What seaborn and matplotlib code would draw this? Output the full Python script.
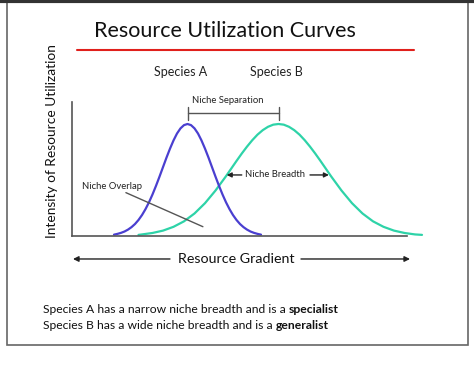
import pandas as pd
import seaborn as sns
import matplotlib.pyplot as plt
from matplotlib.patches import Rectangle
from matplotlib.lines import Line2D

# resource gradient positions / utilization
species_a_x = list(range(12, 55))
species_a_y = [0.012, 0.019, 0.028, 0.040, 0.057, 0.079, 0.107, 0.143, 0.187, 0.240, 0.301, 0.371,
               0.448, 0.530, 0.615, 0.700, 0.780, 0.853, 0.915, 0.961, 0.990, 1.000,
               0.990, 0.961, 0.915, 0.853, 0.780, 0.700, 0.615, 0.530, 0.448, 0.371, 0.301,
               0.240, 0.187, 0.143, 0.107, 0.079, 0.057, 0.040, 0.028, 0.019, 0.012]
species_b_x = [19, 20, 23, 26, 29, 32, 35, 38, 41, 44, 47, 48.5, 50, 51.5, 53, 54.5, 56, 57.5, 59,
               60.5, 62, 63.5, 65, 66.5, 68, 69.5, 71, 74, 77, 80, 83, 86, 89, 92, 95, 98, 100]
species_b_y = [0.01, 0.014, 0.027, 0.048, 0.082, 0.131, 0.201, 0.293, 0.406, 0.534, 0.670, 0.736,
               0.798, 0.855, 0.905, 0.945, 0.975, 0.994, 1.00,
               0.994, 0.975, 0.945, 0.905, 0.855, 0.798, 0.736, 0.670, 0.534, 0.406, 0.293,
               0.201, 0.131, 0.082, 0.048, 0.027, 0.014, 0.01]
species_labels = ["Species A", "Species B"]
species_centers = [33, 59]
species_colors = ["#4a3fd0", "#2ed3a8"]
notes = ["Species A has a narrow niche breadth and is a ",
         "Species B has a wide niche breadth and is a "]
notes_bold = ["specialist", "generalist"]

sns.set_style("white")
plt.rcParams["font.family"] = ["Lato", "DejaVu Sans"]

fig = plt.figure(figsize=(4.74, 3.72), dpi=100)
ax = fig.add_axes([0.1519, 0.3656, 0.7384, 0.3613])

df_a = pd.DataFrame({"x": species_a_x, "y": species_a_y})
df_b = pd.DataFrame({"x": species_b_x, "y": species_b_y})
sns.lineplot(data=df_b, x="x", y="y", color=species_colors[1], lw=1.6, ax=ax, clip_on=False)
sns.lineplot(data=df_a, x="x", y="y", color=species_colors[0], lw=1.6, ax=ax, clip_on=False)

ax.set_xlim(0, 100)
ax.set_ylim(0, 1.2)
ax.set_xticks([])
ax.set_yticks([])
ax.set_xlabel("")
ax.set_ylabel("")
for s in ["top", "right"]:
    ax.spines[s].set_visible(False)
for s in ["left", "bottom"]:
    ax.spines[s].set_color("#555555")
    ax.spines[s].set_linewidth(1.2)
ax.spines["bottom"].set_bounds(0, 95.7)

# species names
for lab, cx in zip(species_labels, [31.0, 58.3]):
    ax.text(cx, 1.467, lab, ha="center", va="center", fontsize=9, color="#222222", clip_on=False)

# niche separation bracket
c0, c1 = species_centers
ax.plot([c0, c1], [1.10, 1.10], color="#555555", lw=1, clip_on=False)
ax.plot([c0, c0], [1.036, 1.152], color="#555555", lw=1, clip_on=False)
ax.plot([c1, c1], [1.036, 1.152], color="#555555", lw=1, clip_on=False)
ax.text(44.4, 1.21, "Niche Separation", ha="center", va="center", fontsize=6.8, color="#222222", clip_on=False)

# niche breadth
ax.text(57.9, 0.545, "Niche Breadth", ha="center", va="center", fontsize=6.8, color="#222222")
ap = dict(arrowstyle="-|>", color="#222222", lw=1, mutation_scale=7, shrinkA=0, shrinkB=0)
ax.annotate("", xy=(44.2, 0.545), xytext=(48.5, 0.545), arrowprops=ap)
ax.annotate("", xy=(73.4, 0.545), xytext=(68.0, 0.545), arrowprops=ap)

# niche overlap
ax.text(2.8, 0.44, "Niche Overlap", ha="left", va="center", fontsize=6.8, color="#222222")
ax.plot([15.4, 37.4], [0.387, 0.083], color="#555555", lw=1)

# titles and labels
fig.text(0.4747, 0.9167, "Resource Utilization Curves", ha="center", va="center", fontsize=15.5, color="#111111")
fig.add_artist(Line2D([0.1624, 0.8734], [0.8648, 0.8648], color="#e0201c", lw=1.5))
fig.text(0.109, 0.6196, "Intensity of Resource Utilization", rotation=90, ha="center", va="center",
         fontsize=9.9, color="#111111")

# resource gradient
fig.text(0.498, 0.3038, "Resource Gradient", ha="center", va="center", fontsize=10.3, color="#111111")
ap2 = dict(arrowstyle="-|>", color="#222222", lw=1, mutation_scale=8, shrinkA=0, shrinkB=0)
ax.annotate("", xy=(0.154, 0.3038), xytext=(0.3586, 0.3038), xycoords="figure fraction",
            textcoords="figure fraction", arrowprops=ap2)
ax.annotate("", xy=(0.865, 0.3038), xytext=(0.635, 0.3038), xycoords="figure fraction",
            textcoords="figure fraction", arrowprops=ap2)

# bottom notes with bold words
for note, bold, ny in zip(notes, notes_bold, [0.1667, 0.1263]):
    t = fig.text(0.090, ny, note, ha="left", va="center", fontsize=8.7, color="#111111")
    ax.annotate(bold, xy=(1, 0), xycoords=t, va="bottom", ha="left", fontsize=8.7,
                weight="bold", color="#111111", annotation_clip=False)

# outer frame
fig.add_artist(Rectangle((0.0158, 0.0726), 0.9705, 0.93, transform=fig.transFigure,
                         fill=False, edgecolor="#666666", lw=1.2))
fig.add_artist(Line2D([0, 1], [0.997, 0.997], color="#333333", lw=3))

fig.savefig("out.png", dpi=100)
